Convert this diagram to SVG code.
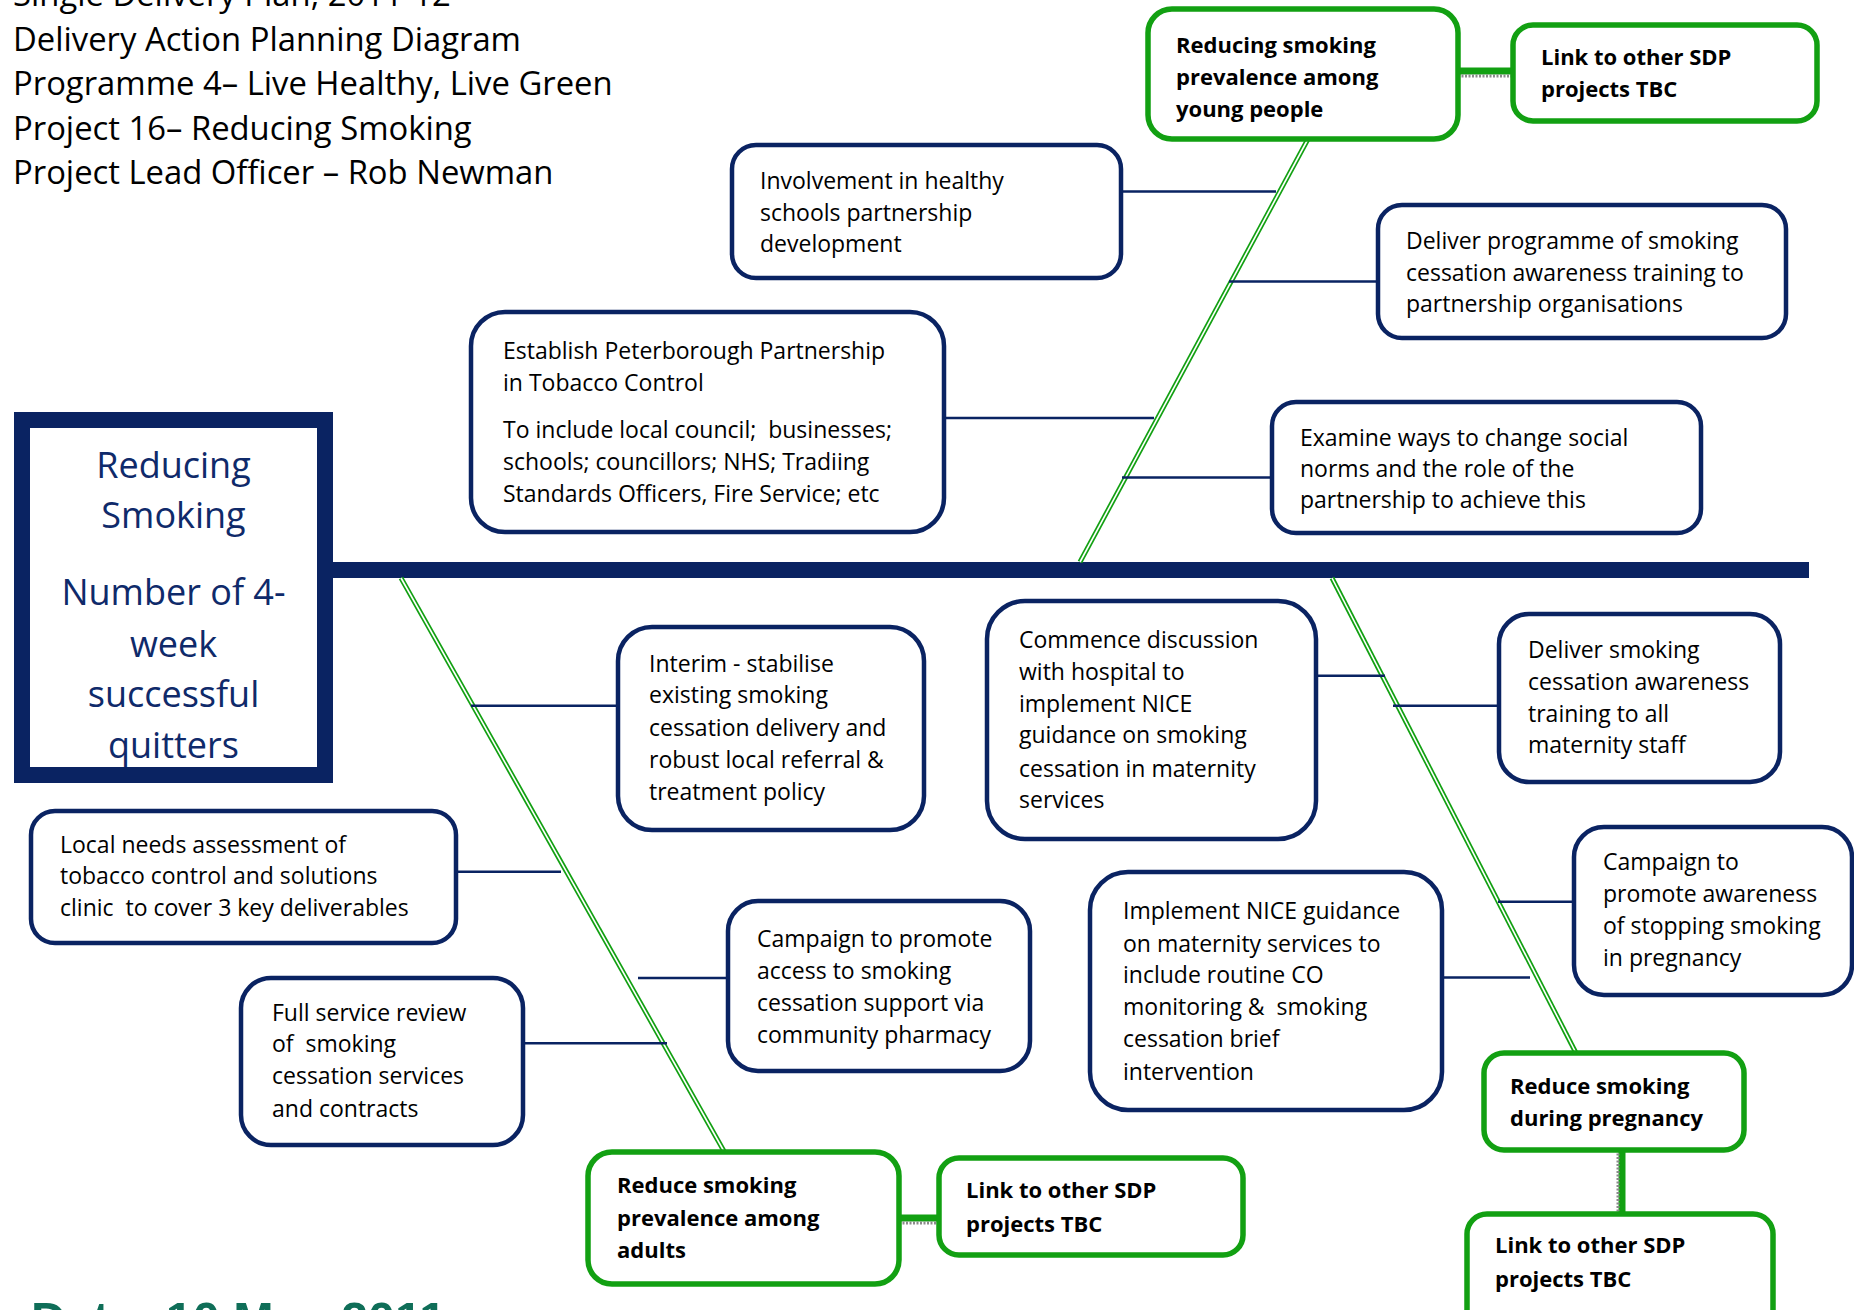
<svg xmlns="http://www.w3.org/2000/svg" width="1854" height="1310" viewBox="0 0 1854 1310">
<defs>
<style>
.nb{fill:#fff;stroke:#0a2362;stroke-width:4.5}
.gb{fill:#fff;stroke:#12a012;stroke-width:5.5}
.t{font-family:"Open Sans","Liberation Sans",sans-serif;font-size:23px;fill:#000;white-space:pre}
.tb{font-family:"Open Sans","Liberation Sans",sans-serif;font-size:22px;font-weight:700;fill:#000;white-space:pre}
.hd{font-family:"Open Sans","Liberation Sans",sans-serif;font-size:32.8px;fill:#000}
.ct{font-family:"Open Sans","Liberation Sans",sans-serif;font-size:36px;fill:#0f2a6a;text-anchor:middle}
.cn{stroke:#0a2362;stroke-width:2.5;fill:none}
.dg{stroke:#12a012;stroke-width:5;fill:none}
.dgw{stroke:#fff;stroke-width:1.6;fill:none}
.lk{stroke:#12a012;stroke-width:7;fill:none}
.lkd{stroke:#8a8a8a;stroke-width:3;stroke-dasharray:2 1.5;fill:none}
</style>
</defs>
<rect width="1854" height="1310" fill="#fff"/>

<g id="header">
<text class="hd" x="13" y="6">Single Delivery Plan, 2011-12</text>
<text class="hd" x="13" y="50.6">Delivery Action Planning Diagram</text>
<text class="hd" x="13" y="95.2">Programme 4– Live Healthy, Live Green</text>
<text class="hd" x="13" y="139.8">Project 16– Reducing Smoking</text>
<text class="hd" x="13" y="184.4">Project Lead Officer – Rob Newman</text>
</g>
<g id="date">
<text x="31" y="1335.7" font-family="Liberation Sans, Arial, sans-serif" font-size="48.5" font-weight="700" fill="#0f6e58">Date: 10 May 2011</text>
</g>

<g id="connectors">
<rect x="325" y="562" width="1484" height="16" fill="#0a2362"/>
<line class="dg" x1="1308" y1="139" x2="1080" y2="562"/>
<line class="dgw" x1="1308" y1="139" x2="1080" y2="562"/>
<line class="dg" x1="401" y1="578" x2="725" y2="1153"/>
<line class="dgw" x1="401" y1="578" x2="725" y2="1153"/>
<line class="dg" x1="1332" y1="578" x2="1576" y2="1053"/>
<line class="dgw" x1="1332" y1="578" x2="1576" y2="1053"/>
<line class="cn" x1="1121" y1="191.5" x2="1276" y2="191.5"/>
<line class="cn" x1="1229" y1="281.5" x2="1378" y2="281.5"/>
<line class="cn" x1="943" y1="418" x2="1154" y2="418"/>
<line class="cn" x1="1122" y1="477.5" x2="1272" y2="477.5"/>
<line class="cn" x1="471" y1="705.7" x2="618" y2="705.7"/>
<line class="cn" x1="456" y1="871.7" x2="561" y2="871.7"/>
<line class="cn" x1="638" y1="978" x2="728" y2="978"/>
<line class="cn" x1="518" y1="1043.3" x2="667" y2="1043.3"/>
<line class="cn" x1="1316" y1="675.7" x2="1385" y2="675.7"/>
<line class="cn" x1="1393" y1="705.7" x2="1499" y2="705.7"/>
<line class="cn" x1="1442" y1="977.5" x2="1530" y2="977.5"/>
<line class="cn" x1="1498" y1="901.7" x2="1574" y2="901.7"/>
<line class="lk" x1="1458" y1="71" x2="1513" y2="71"/>
<line class="lkd" x1="1458" y1="76" x2="1513" y2="76"/>
<line class="lk" x1="899" y1="1218" x2="939" y2="1218"/>
<line class="lkd" x1="899" y1="1223" x2="939" y2="1223"/>
<line class="lk" x1="1622" y1="1150" x2="1622" y2="1214"/>
<line class="lkd" x1="1618" y1="1150" x2="1618" y2="1214"/>
</g>

<g id="center">
<text class="ct" x="173.5" y="478">Reducing</text>
<text class="ct" x="173.5" y="528">Smoking</text>
<text class="ct" x="173.5" y="605">Number of 4-</text>
<text class="ct" x="173.5" y="657">week</text>
<text class="ct" x="173.5" y="707">successful</text>
<text class="ct" x="173.5" y="758">quitters</text>
<rect x="22" y="420" width="303" height="355" fill="none" stroke="#0a2362" stroke-width="16"/>
</g>

<g id="young">
<rect class="gb" x="1148" y="9" width="310" height="130" rx="24"/>
<text class="tb" x="1176" y="53">Reducing smoking</text>
<text class="tb" x="1176" y="85">prevalence among</text>
<text class="tb" x="1176" y="117">young people</text>
</g>
<g id="link1">
<rect class="gb" x="1513" y="25" width="304" height="96" rx="20"/>
<text class="tb" x="1541" y="65">Link to other SDP</text>
<text class="tb" x="1541" y="97">projects TBC</text>
</g>
<g id="involvement">
<rect class="nb" x="732" y="145" width="389" height="133" rx="24"/>
<text class="t" x="760" y="189">Involvement in healthy</text>
<text class="t" x="760" y="220.7">schools partnership</text>
<text class="t" x="760" y="251.7">development</text>
</g>
<g id="deliverProgramme">
<rect class="nb" x="1378" y="205" width="408" height="133" rx="24"/>
<text class="t" x="1406" y="249.3">Deliver programme of smoking</text>
<text class="t" x="1406" y="280.7">cessation awareness training to</text>
<text class="t" x="1406" y="311.7">partnership organisations</text>
</g>
<g id="establish">
<rect class="nb" x="471" y="312" width="473" height="220" rx="34"/>
<text class="t" x="503" y="359.3">Establish Peterborough Partnership</text>
<text class="t" x="503" y="390.7">in Tobacco Control</text>
<text class="t" x="503" y="438.3">To include local council;  businesses;</text>
<text class="t" x="503" y="470">schools; councillors; NHS; Tradiing</text>
<text class="t" x="503" y="501.7">Standards Officers, Fire Service; etc</text>
</g>
<g id="examine">
<rect class="nb" x="1272" y="402" width="429" height="131" rx="24"/>
<text class="t" x="1300" y="446">Examine ways to change social</text>
<text class="t" x="1300" y="476.7">norms and the role of the</text>
<text class="t" x="1300" y="508.3">partnership to achieve this</text>
</g>
<g id="interim">
<rect class="nb" x="618" y="627" width="306" height="203" rx="34"/>
<text class="t" x="649" y="671.7">Interim - stabilise</text>
<text class="t" x="649" y="703.3">existing smoking</text>
<text class="t" x="649" y="736">cessation delivery and</text>
<text class="t" x="649" y="767.7">robust local referral &amp;</text>
<text class="t" x="649" y="800">treatment policy</text>
</g>
<g id="commence">
<rect class="nb" x="987" y="601" width="329" height="238" rx="38"/>
<text class="t" x="1019" y="648.3">Commence discussion</text>
<text class="t" x="1019" y="680">with hospital to</text>
<text class="t" x="1019" y="712.3">implement NICE</text>
<text class="t" x="1019" y="743.3">guidance on smoking</text>
<text class="t" x="1019" y="776.7">cessation in maternity</text>
<text class="t" x="1019" y="808.3">services</text>
</g>
<g id="deliverMaternity">
<rect class="nb" x="1499" y="614" width="281" height="168" rx="30"/>
<text class="t" x="1528" y="658.3">Deliver smoking</text>
<text class="t" x="1528" y="690">cessation awareness</text>
<text class="t" x="1528" y="721.7">training to all</text>
<text class="t" x="1528" y="753.3">maternity staff</text>
</g>
<g id="localNeeds">
<rect class="nb" x="31" y="811" width="425" height="132" rx="24"/>
<text class="t" x="60" y="852.7">Local needs assessment of</text>
<text class="t" x="60" y="884">tobacco control and solutions</text>
<text class="t" x="60" y="915.7">clinic  to cover 3 key deliverables</text>
</g>
<g id="campaignAccess">
<rect class="nb" x="728" y="901" width="302" height="170" rx="30"/>
<text class="t" x="757" y="947.3">Campaign to promote</text>
<text class="t" x="757" y="979">access to smoking</text>
<text class="t" x="757" y="1010.7">cessation support via</text>
<text class="t" x="757" y="1042.7">community pharmacy</text>
</g>
<g id="implement">
<rect class="nb" x="1090" y="872" width="352" height="238" rx="38"/>
<text class="t" x="1123" y="919.3">Implement NICE guidance</text>
<text class="t" x="1123" y="951.7">on maternity services to</text>
<text class="t" x="1123" y="983.3">include routine CO</text>
<text class="t" x="1123" y="1015">monitoring &amp;  smoking</text>
<text class="t" x="1123" y="1047.3">cessation brief</text>
<text class="t" x="1123" y="1080">intervention</text>
</g>
<g id="campaignAwareness">
<rect class="nb" x="1574" y="827" width="278" height="168" rx="30"/>
<text class="t" x="1603" y="869.5">Campaign to</text>
<text class="t" x="1603" y="901.7">promote awareness</text>
<text class="t" x="1603" y="934">of stopping smoking</text>
<text class="t" x="1603" y="966">in pregnancy</text>
</g>
<g id="fullService">
<rect class="nb" x="241" y="978" width="282" height="167" rx="30"/>
<text class="t" x="272" y="1020.7">Full service review</text>
<text class="t" x="272" y="1051.7">of  smoking</text>
<text class="t" x="272" y="1084">cessation services</text>
<text class="t" x="272" y="1116.7">and contracts</text>
</g>
<g id="pregnancy">
<rect class="gb" x="1484" y="1053" width="260" height="97" rx="20"/>
<text class="tb" x="1510" y="1094">Reduce smoking</text>
<text class="tb" x="1510" y="1126">during pregnancy</text>
</g>
<g id="adults">
<rect class="gb" x="588" y="1152" width="311" height="132" rx="24"/>
<text class="tb" x="617" y="1193">Reduce smoking</text>
<text class="tb" x="617" y="1226">prevalence among</text>
<text class="tb" x="617" y="1258">adults</text>
</g>
<g id="link2">
<rect class="gb" x="939" y="1158" width="304" height="97" rx="20"/>
<text class="tb" x="966" y="1198">Link to other SDP</text>
<text class="tb" x="966" y="1232">projects TBC</text>
</g>
<g id="link3">
<rect class="gb" x="1467" y="1214" width="306" height="116" rx="20"/>
<text class="tb" x="1495" y="1253">Link to other SDP</text>
<text class="tb" x="1495" y="1287">projects TBC</text>
</g>
</svg>
